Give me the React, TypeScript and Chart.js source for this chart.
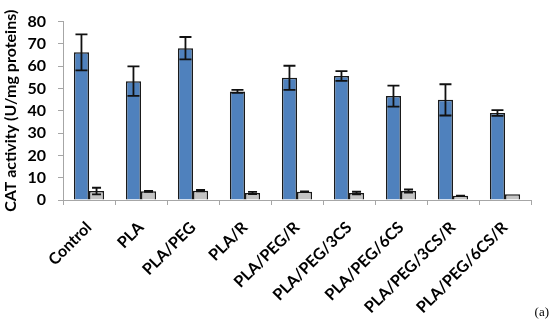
import React, { useEffect, useRef } from "react";
import { Chart, registerables } from "chart.js";

Chart.register(...registerables);

const categories = [
  "Control",
  "PLA",
  "PLA/PEG",
  "PLA/R",
  "PLA/PEG/R",
  "PLA/PEG/3CS",
  "PLA/PEG/6CS",
  "PLA/PEG/3CS/R",
  "PLA/PEG/6CS/R",
];
const blueValues = [66.2, 53.3, 68.1, 48.7, 54.8, 55.6, 46.6, 44.9, 39.0];
const blueErrors = [8.1, 6.6, 5.0, 0.7, 5.4, 2.2, 4.7, 7.0, 1.3];
const greyValues = [4.0, 3.9, 4.2, 3.1, 3.7, 3.1, 4.0, 1.9, 2.6];
const greyErrors = [1.5, 0.2, 0.3, 0.5, 0.2, 0.6, 0.7, 0.1, 0.0];
const yTicks = [0, 10, 20, 30, 40, 50, 60, 70, 80];

const errorsBySeries = [blueErrors, greyErrors];

const errorBarPlugin = {
  id: "errorBars",
  afterDatasetsDraw(chart: any) {
    const ctx = chart.ctx;
    const yScale = chart.scales.y;
    ctx.save();
    ctx.strokeStyle = "#111111";
    ctx.lineWidth = 1.8;
    chart.data.datasets.forEach((ds: any, di: number) => {
      const meta = chart.getDatasetMeta(di);
      const errs = errorsBySeries[di];
      meta.data.forEach((bar: any, i: number) => {
        const v = ds.data[i];
        const e = errs[i];
        if (!e) return;
        const yTop = yScale.getPixelForValue(v + e);
        const yBot = yScale.getPixelForValue(v - e);
        const x = bar.x;
        const cap = di === 0 ? 6 : 4.5;
        ctx.beginPath();
        ctx.moveTo(x, yTop);
        ctx.lineTo(x, yBot);
        ctx.moveTo(x - cap, yTop);
        ctx.lineTo(x + cap, yTop);
        ctx.moveTo(x - cap, yBot);
        ctx.lineTo(x + cap, yBot);
        ctx.stroke();
      });
    });
    ctx.restore();
  },
};

const panelLabelPlugin = {
  id: "panelLabel",
  afterDraw(chart: any) {
    const ctx = chart.ctx;
    ctx.save();
    ctx.fillStyle = "#000000";
    ctx.font = "13px 'Liberation Serif', serif";
    ctx.textAlign = "right";
    ctx.textBaseline = "middle";
    ctx.fillText("(a)", 549, 313);
    ctx.restore();
  },
};

export default function App() {
  const canvasRef = useRef<HTMLCanvasElement | null>(null);

  useEffect(() => {
    if (!canvasRef.current) return;
    const chart = new Chart(canvasRef.current, {
      type: "bar",
      data: {
        labels: categories,
        datasets: [
          {
            label: "Series 1",
            data: blueValues,
            backgroundColor: "#4F81BD",
            borderColor: "#1a1a1a",
            borderWidth: 1.5,
            categoryPercentage: 0.58,
            barPercentage: 1.0,
          },
          {
            label: "Series 2",
            data: greyValues,
            backgroundColor: "#C4C4C4",
            borderColor: "#1a1a1a",
            borderWidth: 1.5,
            categoryPercentage: 0.58,
            barPercentage: 1.0,
          },
        ],
      },
      options: {
        animation: false,
        responsive: false,
        maintainAspectRatio: false,
        layout: { padding: { top: 14, right: 19, left: 0, bottom: 0 } },
        plugins: {
          legend: { display: false },
          tooltip: { enabled: false },
        },
        scales: {
          x: {
            grid: {
              display: true,
              offset: true,
              drawOnChartArea: false,
              drawTicks: true,
              tickLength: 5,
              color: "#a6a6a6",
            },
            border: { display: true, color: "#a6a6a6", width: 1 },
            ticks: {
              maxRotation: 45,
              minRotation: 45,
              autoSkip: false,
              color: "#000000",
              font: { family: "Lato", weight: "bold", size: 16 },
              padding: 13,
            },
            afterFit: (s: any) => {
              s.height = 124;
            },
          },
          y: {
            min: 0,
            max: 80,
            afterBuildTicks: (s: any) => {
              s.ticks = yTicks.map((v) => ({ value: v }));
            },
            grid: {
              display: true,
              drawOnChartArea: false,
              drawTicks: true,
              tickLength: 5,
              color: "#a6a6a6",
            },
            border: { display: true, color: "#a6a6a6", width: 1 },
            ticks: {
              color: "#000000",
              font: { family: "Lato", weight: "bold", size: 16 },
              padding: 12,
            },
            title: {
              display: true,
              text: "CAT activity (U/mg proteins)",
              color: "#000000",
              font: { family: "Lato", weight: "bold", size: 16 },
              padding: { top: 1, bottom: 2 },
            },
            afterFit: (s: any) => {
              s.width = 63;
            },
          },
        },
      },
      plugins: [errorBarPlugin, panelLabelPlugin],
    });
    return () => chart.destroy();
  }, []);

  return (
    <div style={{ position: "absolute", left: 0, top: 0, width: 550, height: 324, background: "#ffffff" }}>
      <canvas ref={canvasRef} width={550} height={324} style={{ width: 550, height: 324 }} />
    </div>
  );
}
